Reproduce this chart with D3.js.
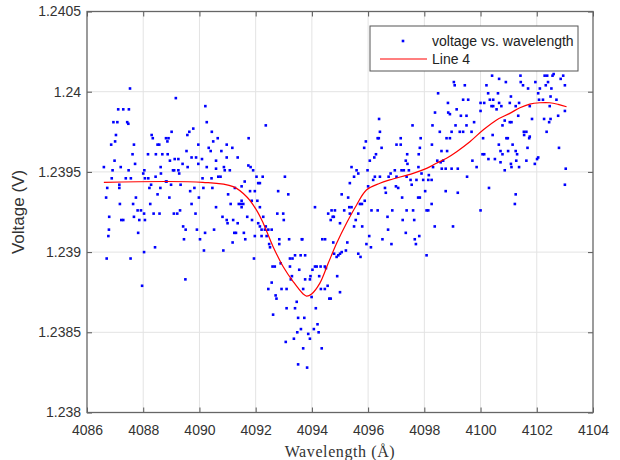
<!DOCTYPE html>
<html>
  <head>
    <meta charset="utf-8" />
    <script src="https://cdn.jsdelivr.net/npm/d3@7/dist/d3.min.js"></script>
    <style>
      body { margin: 0; background: #fff; }
      svg { font-family: "Liberation Sans", Arial, sans-serif; }
    </style>
  </head>

  <body>
    <svg width="620" height="460"></svg>

    <script type="text/javascript">
      // measured points: [wavelength (A), voltage (V)]
      var samples = [
        [4087.53,1.24002],[4089.16,1.23996],[4087.11,1.23989],[4087.29,1.23989],[4087.49,1.23989],[4090.21,1.23991],
        [4086.94,1.23981],[4087.08,1.23981],[4087.43,1.23981],[4087.47,1.2398],[4090.26,1.23981],[4092.36,1.23979],
        [4087.03,1.23973],[4089.01,1.23975],[4088.3,1.23973],[4088.34,1.23971],[4089.64,1.23975],[4089.78,1.23977],
        [4090.44,1.23975],[4087.0,1.23969],[4088.81,1.23971],[4088.9,1.23971],[4088.86,1.23969],[4089.57,1.23973],
        [4090.65,1.23971],[4091.75,1.23971],[4086.86,1.23967],[4087.67,1.23967],[4088.51,1.23967],[4088.57,1.23967],
        [4089.96,1.23967],[4090.49,1.23969],[4090.97,1.23967],[4090.33,1.23965],[4090.4,1.23963],[4087.62,1.23961],
        [4088.17,1.23961],[4088.45,1.23961],[4088.68,1.23961],[4088.87,1.23961],[4089.54,1.23963],[4090.78,1.23963],
        [4091.17,1.23965],[4086.98,1.23957],[4089.12,1.23958],[4089.25,1.23958],[4088.95,1.23957],[4089.72,1.23959],
        [4089.88,1.23959],[4090.97,1.23959],[4091.36,1.23959],[4090.09,1.23958],[4089.4,1.23955],[4089.58,1.23953],
        [4087.71,1.23955],[4088.62,1.23953],[4089.96,1.23955],[4090.59,1.23957],[4086.6,1.23953],[4086.91,1.23951],
        [4087.2,1.23953],[4087.48,1.23951],[4088.04,1.23951],[4089.06,1.23951],[4089.1,1.23951],[4089.25,1.23951],
        [4089.28,1.23949],[4090.26,1.23953],[4090.59,1.23952],[4090.87,1.23953],[4090.9,1.23951],[4090.67,1.23947],
        [4090.75,1.23947],[4091.08,1.23951],[4088.0,1.23949],[4088.44,1.23947],[4088.63,1.23949],[4088.81,1.23944],
        [4088.83,1.23944],[4088.99,1.23942],[4089.33,1.23942],[4086.88,1.23946],[4087.38,1.23946],[4087.56,1.23946],
        [4088.06,1.23946],[4088.18,1.23946],[4090.11,1.23946],[4090.43,1.23946],[4086.72,1.2394],[4087.15,1.23942],
        [4087.15,1.2394],[4088.22,1.2394],[4088.28,1.23942],[4088.61,1.2394],[4089.67,1.23938],[4089.82,1.2394],
        [4090.14,1.2394],[4090.46,1.2394],[4091.26,1.2394],[4091.02,1.23936],[4088.51,1.23936],[4086.68,1.23934],
        [4087.74,1.23934],[4088.93,1.23934],[4089.98,1.23934],[4091.5,1.23932],[4091.56,1.2393],[4087.17,1.2393],
        [4087.64,1.2393],[4088.25,1.2393],[4089.72,1.2393],[4091.11,1.2393],[4091.4,1.2393],[4091.48,1.2393],
        [4090.59,1.23928],[4087.8,1.23926],[4087.92,1.23926],[4088.03,1.23924],[4089.09,1.23924],[4089.21,1.23924],
        [4088.37,1.23924],[4088.58,1.23924],[4089.31,1.23926],[4089.86,1.23924],[4087.67,1.23922],[4086.79,1.23922],
        [4090.82,1.23922],[4090.97,1.2392],[4091.2,1.2392],[4087.22,1.2392],[4087.29,1.2392],[4087.86,1.2392],
        [4088.06,1.2392],[4091.0,1.23918],[4091.36,1.23918],[4089.42,1.23916],[4086.78,1.23914],[4089.51,1.23914],
        [4089.91,1.23914],[4090.52,1.23914],[4087.82,1.23912],[4090.2,1.23912],[4091.24,1.23912],[4091.3,1.23912],
        [4086.76,1.2391],[4090.02,1.23908],[4089.45,1.23908],[4091.18,1.23906],[4088.42,1.23903],[4090.16,1.23901],
        [4090.85,1.23901],[4088.03,1.239],[4086.7,1.23896],[4087.55,1.23896],[4089.5,1.23883],[4087.96,1.23879],

        [4091.74,1.23954],[4091.82,1.23953],[4091.91,1.23951],[4091.61,1.23944],[4091.5,1.23941],[4092.03,1.23947],
        [4092.09,1.23943],[4092.15,1.23943],[4092.25,1.23947],[4093.04,1.23947],[4091.8,1.23938],[4091.97,1.23938],
        [4091.86,1.23932],[4092.06,1.23932],[4091.5,1.23928],[4092.15,1.23928],[4092.8,1.23938],[4093.16,1.23936],
        [4091.7,1.23922],[4091.87,1.2392],[4092.27,1.23922],[4092.77,1.23924],[4092.98,1.23924],[4093.0,1.2392],
        [4092.09,1.23918],[4092.15,1.23916],[4092.21,1.23914],[4092.33,1.23914],[4092.36,1.23916],[4092.45,1.23914],
        [4092.57,1.23914],[4091.58,1.23912],[4091.97,1.2391],[4092.21,1.2391],[4092.39,1.2391],[4091.63,1.23908],
        [4092.84,1.23908],[4093.19,1.23908],[4093.64,1.23908],[4092.48,1.23905],[4092.51,1.23903],[4092.84,1.23905],
        [4091.94,1.23896],[4092.6,1.23891],[4092.68,1.23891],[4093.22,1.23896],[4093.31,1.23896],[4093.4,1.23898],
        [4093.6,1.23898],[4093.76,1.23898],[4092.89,1.23893],[4093.22,1.23891],[4093.55,1.23889],[4093.29,1.23885],
        [4093.76,1.23883],[4093.93,1.23883],[4093.95,1.23885],[4093.69,1.23877],[4092.57,1.23881],[4092.45,1.23877],
        [4092.92,1.23877],[4093.1,1.23877],[4092.62,1.23861],[4093.1,1.23865],[4093.4,1.23865],[4093.46,1.23869],
        [4093.51,1.23859],[4093.73,1.23859],[4093.61,1.23852],[4093.48,1.2385],[4093.36,1.23846],[4093.07,1.23844],
        [4093.87,1.23849],[4093.93,1.23846],[4093.69,1.2384],[4093.51,1.2383],[4093.83,1.23828],[4094.07,1.23852],
        [4094.2,1.23855],[4094.24,1.2385],[4094.35,1.2384],[4094.14,1.23865],[4093.99,1.23872],[4094.11,1.23928],
        [4093.66,1.23908],[4094.02,1.23889],[4094.11,1.23891],[4094.17,1.23891],[4094.26,1.23885],[4094.31,1.23891],
        [4094.46,1.23891],[4094.5,1.2389],[4094.32,1.23877],[4094.46,1.23877],[4094.56,1.23879],[4094.62,1.23871],
        [4094.67,1.23871],[4094.37,1.23908],[4094.47,1.23908],[4094.58,1.23924],[4094.7,1.23926],[4094.82,1.23926],
        [4094.74,1.23922],[4094.78,1.23922],[4094.67,1.2392],[4094.9,1.23885],[4095.0,1.23875],[4094.79,1.23899],
        [4094.88,1.23897],[4094.94,1.23898],[4095.0,1.23899],[4095.06,1.239],[4094.76,1.23906],[4095.0,1.23918],
        [4095.21,1.23901],[4095.26,1.23906],[4095.06,1.23936],[4095.29,1.23934],[4095.35,1.23943],[4095.41,1.23953],
        [4095.5,1.23947],[4095.59,1.23951],[4095.65,1.23949],[4095.15,1.23926],[4095.33,1.23928],[4095.41,1.23928],
        [4095.35,1.23924],[4095.56,1.2392],[4095.65,1.23924],[4095.5,1.23916],[4095.71,1.2393],[4095.78,1.2393],
        [4095.88,1.23932],[4095.79,1.23916],[4095.65,1.23899],[4095.73,1.23897],[4095.94,1.23905],[4095.98,1.23951],
        [4096.06,1.23957],[4096.1,1.23903],[4096.04,1.2391],[4096.12,1.23926],[4096.18,1.23945],[4096.24,1.23947],
        [4096.22,1.23959],[4096.28,1.23961],[4096.51,1.23908],[4096.0,1.23941],[4096.34,1.23926],[4096.42,1.23947],
        [4096.6,1.2394],[4096.63,1.23937],[4096.69,1.23922],[4096.71,1.23914],[4092.71,1.23873],[4092.74,1.23871],
        [4093.25,1.23883],

        [4099.05,1.24006],[4099.08,1.24004],[4099.44,1.24004],[4098.49,1.23999],[4099.38,1.23995],[4099.56,1.23995],
        [4098.84,1.23993],[4099.15,1.23989],[4098.85,1.23987],[4098.91,1.23986],[4099.3,1.23985],[4099.5,1.23985],
        [4098.38,1.23987],[4099.77,1.23981],[4099.11,1.23979],[4099.5,1.23979],[4096.39,1.23983],[4097.58,1.23979],
        [4098.29,1.23979],[4096.42,1.23975],[4098.55,1.23975],[4098.97,1.23975],[4099.26,1.23975],[4099.38,1.23975],
        [4099.68,1.23975],[4098.79,1.23971],[4098.91,1.23971],[4096.34,1.23971],[4096.38,1.23971],[4095.92,1.23969],
        [4097.87,1.23971],[4097.01,1.23967],[4097.16,1.23967],[4097.16,1.23971],[4095.86,1.23965],[4096.48,1.23965],
        [4097.84,1.23965],[4098.27,1.23967],[4098.61,1.23963],[4098.81,1.23963],[4097.39,1.23961],[4097.8,1.23961],
        [4099.71,1.23957],[4097.34,1.23957],[4097.4,1.23955],[4098.46,1.23957],[4098.58,1.23956],[4098.67,1.23957],
        [4097.79,1.23953],[4096.95,1.23951],[4097.19,1.23951],[4097.27,1.23951],[4097.45,1.23951],[4098.31,1.23953],
        [4098.62,1.23952],[4098.76,1.23952],[4098.97,1.23952],[4099.19,1.23952],[4099.86,1.23953],[4096.8,1.23949],
        [4096.73,1.23947],[4097.01,1.23947],[4097.37,1.23947],[4097.9,1.23949],[4098.16,1.23948],[4099.52,1.23947],
        [4097.51,1.23945],[4097.72,1.23945],[4097.96,1.23945],[4098.14,1.23945],[4098.26,1.23945],[4096.99,1.23941],
        [4097.07,1.2394],[4097.55,1.23942],[4098.76,1.23938],[4099.19,1.23937],[4098.03,1.23938],[4097.21,1.23934],
        [4097.78,1.23934],[4097.84,1.23934],[4097.37,1.23926],[4097.6,1.23926],[4098.08,1.23926],[4098.14,1.23926],
        [4098.26,1.2393],[4096.86,1.23926],[4097.23,1.2392],[4097.64,1.2392],[4098.37,1.23916],[4099.02,1.23916],
        [4097.34,1.23912],[4097.82,1.2391],[4097.66,1.23908],[4097.7,1.23905],[4096.83,1.23905],[4098.08,1.23898],

        [4100.41,1.2401],[4100.66,1.24008],[4100.9,1.24006],[4101.42,1.2401],[4101.43,1.24006],[4101.51,1.24004],
        [4101.69,1.24002],[4101.95,1.24006],[4102.28,1.2401],[4102.37,1.2401],[4102.6,1.24011],[4102.56,1.2401],
        [4102.94,1.2401],[4102.85,1.24008],[4102.4,1.24006],[4102.32,1.24004],[4103.0,1.24004],[4102.05,1.23999],
        [4102.11,1.24002],[4102.52,1.24002],[4100.21,1.24004],[4100.27,1.23999],[4100.62,1.23999],[4101.08,1.23997],
        [4102.49,1.23997],[4102.7,1.23995],[4100.0,1.23993],[4100.13,1.23993],[4100.33,1.23995],[4100.45,1.23995],
        [4100.66,1.23993],[4101.04,1.23993],[4101.37,1.23993],[4102.08,1.23995],[4102.22,1.23995],[4100.39,1.23991],
        [4100.45,1.23991],[4100.74,1.23991],[4101.25,1.23991],[4101.75,1.23991],[4102.46,1.23991],[4100.0,1.23988],
        [4100.57,1.23989],[4101.34,1.23985],[4101.83,1.23983],[4102.26,1.23983],[4102.49,1.23983],[4102.76,1.23985],
        [4103.0,1.23988],[4100.86,1.23982],[4100.78,1.23979],[4101.04,1.23981],[4101.1,1.23981],[4102.44,1.23981],
        [4102.35,1.23975],[4101.54,1.23975],[4101.63,1.23975],[4101.55,1.23973],[4101.75,1.23972],[4101.73,1.23971],
        [4100.43,1.23973],[4100.92,1.23971],[4100.97,1.23971],[4100.09,1.23971],[4101.14,1.23967],[4100.65,1.23967],
        [4101.67,1.23965],[4102.79,1.23965],[4100.98,1.23963],[4101.25,1.23963],[4101.3,1.23961],[4100.07,1.23961],
        [4100.13,1.23961],[4100.71,1.23963],[4100.78,1.23961],[4100.28,1.23958],[4100.51,1.23958],[4102.01,1.23958],
        [4102.05,1.23959],[4101.27,1.23957],[4100.71,1.23956],[4101.08,1.23955],[4101.1,1.23953],[4101.63,1.23957],
        [4101.93,1.23955],[4100.86,1.23951],[4103.03,1.23952],[4101.37,1.23953],[4100.3,1.2394],[4103.0,1.23942],
        [4101.25,1.23936],[4101.22,1.2393],[4100.0,1.23926]
      ];

      // fitted curve ("Line 4")
      var fitWavelength = [4086.6, 4090.12, 4091.2, 4091.68, 4092.03, 4092.27, 4092.62, 4092.98, 4093.34,
        4093.69, 4093.81, 4093.99, 4094.28, 4094.58, 4094.88, 4095.23, 4095.59, 4095.94, 4096.42, 4096.77,
        4097.6, 4098.08, 4098.43, 4098.79, 4099.15, 4099.62, 4100.09, 4100.57, 4101.04, 4101.4, 4101.75,
        4102.11, 4102.46, 4102.76, 4103.06];
      var fitVoltage = [1.239435, 1.239435, 1.239408, 1.239345, 1.239262, 1.23918, 1.239034, 1.238909, 1.238815,
        1.238739, 1.238726, 1.238739, 1.238805, 1.23893, 1.239055, 1.23918, 1.239294, 1.239387, 1.239429, 1.23945,
        1.239491, 1.239522, 1.239554, 1.239585, 1.239626, 1.239688, 1.239761, 1.239824, 1.239865, 1.2399, 1.239923,
        1.239931, 1.239931, 1.239921, 1.239906];

      var xTicks = [4086, 4088, 4090, 4092, 4094, 4096, 4098, 4100, 4102, 4104];
      var yTicks = [1.238, 1.2385, 1.239, 1.2395, 1.24, 1.2405];
      var yTickLabels = ["1.238", "1.2385", "1.239", "1.2395", "1.24", "1.2405"];

      var svg = d3.select("svg");
      var plotLeft = 87, plotRight = 593, plotTop = 11.5, plotBottom = 412.5;
      var textColor = "#333";
      var dot = 2.6;

      var x = d3.scaleLinear().domain([4086, 4104]).range([plotLeft, plotRight]);
      var y = d3.scaleLinear().domain([1.238, 1.2405]).range([plotBottom, plotTop]);

      // grid
      var grid = svg.append("g").attr("stroke", "#e3e3e3").attr("stroke-width", 1);
      grid.selectAll(null)
        .data(xTicks.slice(1, -1))
        .enter()
        .append("line")
        .attr("x1", (d) => x(d)).attr("x2", (d) => x(d))
        .attr("y1", plotTop).attr("y2", plotBottom);
      grid.selectAll(null)
        .data(yTicks.slice(1, -1))
        .enter()
        .append("line")
        .attr("y1", (d) => y(d)).attr("y2", (d) => y(d))
        .attr("x1", plotLeft).attr("x2", plotRight);

      // axes, ticks pointing inward on all four sides
      function styleAxis(g) {
        g.select(".domain").remove();
        g.selectAll(".tick line").attr("stroke", "#555");
        g.selectAll(".tick text").attr("fill", textColor).style("font-size", "14px")
          .style("font-family", '"Liberation Sans", Arial, sans-serif');
      }

      svg.append("g")
        .attr("transform", "translate(0," + plotBottom + ")")
        .call(d3.axisBottom(x).tickValues(xTicks).tickSizeInner(-5).tickSizeOuter(0)
          .tickPadding(12.5).tickFormat(d3.format("d")))
        .call(styleAxis);
      svg.append("g")
        .attr("transform", "translate(0," + plotTop + ")")
        .call(d3.axisTop(x).tickValues(xTicks).tickSizeInner(-5).tickSizeOuter(0).tickFormat(""))
        .call(styleAxis);
      svg.append("g")
        .attr("transform", "translate(" + plotLeft + ",0)")
        .call(d3.axisLeft(y).tickValues(yTicks).tickSizeInner(-5).tickSizeOuter(0)
          .tickPadding(6).tickFormat((d, i) => yTickLabels[i]))
        .call(styleAxis);
      svg.append("g")
        .attr("transform", "translate(" + plotRight + ",0)")
        .call(d3.axisRight(y).tickValues(yTicks).tickSizeInner(-5).tickSizeOuter(0).tickFormat(""))
        .call(styleAxis);

      // box
      svg.append("rect")
        .attr("x", plotLeft).attr("y", plotTop)
        .attr("width", plotRight - plotLeft).attr("height", plotBottom - plotTop)
        .attr("fill", "none")
        .attr("stroke", "#666")
        .attr("stroke-width", 1.3);

      // scatter, matlab "." markers
      svg.append("g")
        .selectAll("rect")
        .data(samples)
        .enter()
        .append("rect")
        .attr("x", (d) => x(d[0]) - dot / 2)
        .attr("y", (d) => y(d[1]) - dot / 2)
        .attr("width", dot)
        .attr("height", dot)
        .attr("fill", "#0000ff");

      // fit line
      var lineGenerator = d3.line()
        .x((d, i) => x(fitWavelength[i]))
        .y((d, i) => y(fitVoltage[i]))
        .curve(d3.curveCatmullRom);
      svg.append("path")
        .attr("fill", "none")
        .attr("stroke", "#ff0000")
        .attr("stroke-width", 1.2)
        .attr("d", lineGenerator(fitVoltage));

      // axis titles
      svg.append("text")
        .attr("x", (plotLeft + plotRight) / 2)
        .attr("y", 457)
        .attr("text-anchor", "middle")
        .attr("fill", textColor)
        .style("font-family", '"Liberation Serif", "Times New Roman", serif')
        .style("font-size", "16px")
        .style("letter-spacing", "0.6px")
        .text("Wavelength (Å)");

      svg.append("text")
        .attr("transform", "translate(24," + (plotTop + plotBottom) / 2 + ") rotate(-90)")
        .attr("text-anchor", "middle")
        .attr("fill", textColor)
        .style("font-size", "17px")
        .text("Voltage (V)");

      // legend
      var legend = svg.append("g").attr("transform", "translate(370,26)");
      legend.append("rect")
        .attr("width", 208).attr("height", 45)
        .attr("fill", "#fff")
        .attr("stroke", "#555")
        .attr("stroke-width", 1);
      legend.append("rect")
        .attr("x", 33 - dot / 2).attr("y", 15 - dot / 2)
        .attr("width", dot).attr("height", dot)
        .attr("fill", "#0000ff");
      legend.append("line")
        .attr("x1", 10).attr("x2", 57).attr("y1", 33).attr("y2", 33)
        .attr("stroke", "#ff0000").attr("stroke-width", 1.2);
      legend.selectAll(null)
        .data(["voltage vs. wavelength", "Line 4"])
        .enter()
        .append("text")
        .attr("x", 62)
        .attr("y", (d, i) => 15 + i * 18)
        .attr("dy", "0.35em")
        .attr("fill", "#222")
        .style("font-size", "14px")
        .text((d) => d);
    </script>
  </body>
</html>
